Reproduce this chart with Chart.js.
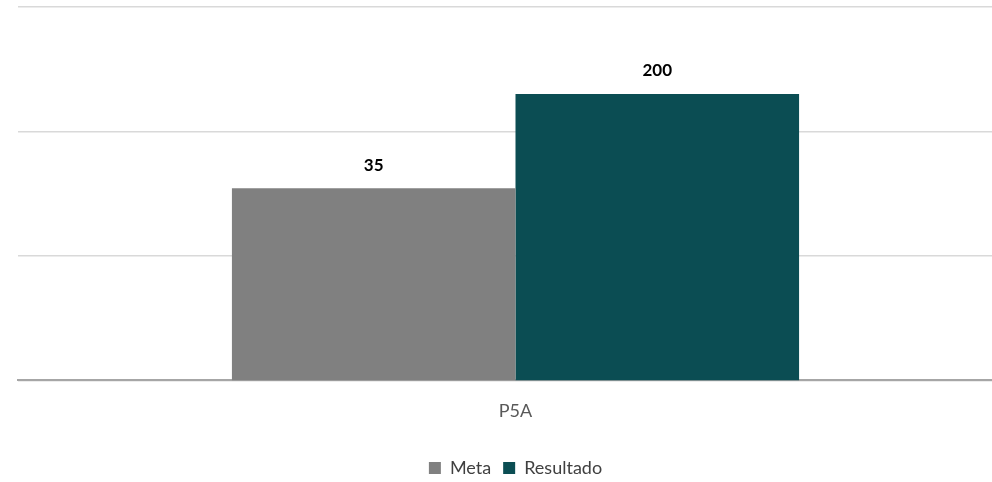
<!DOCTYPE html>
<html>
<head>
<meta charset="utf-8">
<script src="https://cdn.jsdelivr.net/npm/chart.js@4/dist/chart.umd.min.js"></script>
<style>
html,body{margin:0;padding:0;background:#fff;overflow:hidden;width:992px;height:482px;}
#wrap{width:1031px;height:482px;}
</style>
</head>
<body>
<div id="wrap"><canvas id="c" width="1031" height="482"></canvas></div>
<script>
const categories = ["P5A"];
const metaValues = [35];
const resultadoValues = [200];
const seriesNames = ["Meta", "Resultado"];
const gridValues = [1, 10, 100, 1000];

const labelPlugin = {
  id: 'barLabels',
  afterDatasetsDraw(chart) {
    const ctx = chart.ctx;
    ctx.save();
    ctx.font = 'bold 17px Lato, "Open Sans", sans-serif';
    ctx.fillStyle = '#000';
    ctx.textAlign = 'center';
    ctx.textBaseline = 'middle';
    chart.data.datasets.forEach((ds, i) => {
      chart.getDatasetMeta(i).data.forEach((bar, j) => {
        ctx.fillText(String(ds.data[j]), bar.x, bar.y - 23);
      });
    });
    ctx.restore();
  }
};

new Chart(document.getElementById('c'), {
  type: 'bar',
  data: {
    labels: categories,
    datasets: [
      { label: seriesNames[0], data: metaValues, backgroundColor: '#808080' },
      { label: seriesNames[1], data: resultadoValues, backgroundColor: '#0b4d53' }
    ]
  },
  options: {
    responsive: false,
    animation: false,
    layout: { padding: { left: 18, right: 18, top: 7, bottom: -5 } },
    datasets: { bar: { categoryPercentage: 0.57, barPercentage: 1.0 } },
    scales: {
      x: {
        grid: { display: false, drawTicks: false },
        border: { display: true, color: '#a6a6a6', width: 2 },
        ticks: { color: '#595959', font: { size: 18, family: 'Lato, "Open Sans", sans-serif' }, padding: 20 },
        afterFit(axis) { axis.height += 5; }
      },
      y: {
        type: 'logarithmic',
        min: 1,
        max: 1000,
        afterBuildTicks(axis) {
          axis.ticks = gridValues.map(v => ({ value: v }));
        },
        grid: { color: '#d9d9d9', lineWidth: 1.5, drawTicks: false },
        border: { display: false },
        ticks: { display: false }
      }
    },
    plugins: {
      legend: {
        position: 'bottom',
        labels: {
          boxWidth: 12, boxHeight: 12, color: '#404040',
          font: { size: 18, family: 'Lato, "Open Sans", sans-serif' },
          padding: 12
        }
      },
      tooltip: { enabled: false }
    }
  },
  plugins: [labelPlugin]
});
</script>
</body>
</html>
